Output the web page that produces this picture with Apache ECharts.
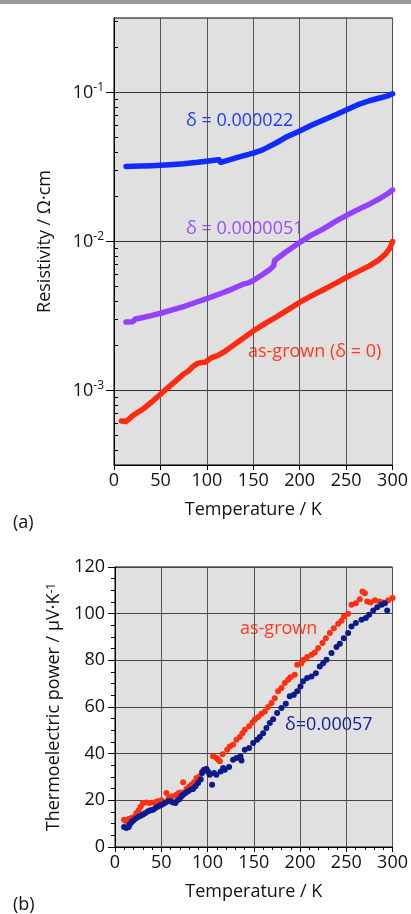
<!DOCTYPE html>
<html>
<head>
<meta charset="utf-8">
<script src="https://cdn.jsdelivr.net/npm/echarts@6/dist/echarts.min.js"></script>
<style>
html, body { margin: 0; padding: 0; background: #fff; }
#main { width: 411px; height: 914px; }
</style>
</head>
<body>
<div id="main"></div>
<script>
// (a) resistivity, three samples
var tempBlue = [13, 20, 30, 40, 50, 60, 75, 90, 100, 110, 113, 115, 125, 135, 150, 160, 175, 185, 200, 212, 225, 240, 250, 262, 275, 285, 295, 300];
var resBlue = [0.0319, 0.0320, 0.0321, 0.0323, 0.0325, 0.0328, 0.0333, 0.0340, 0.0346, 0.0352, 0.0354, 0.0340, 0.0354, 0.0370, 0.0392, 0.0412, 0.0460, 0.0500, 0.0552, 0.0600, 0.0652, 0.0715, 0.0764, 0.0825, 0.0880, 0.0915, 0.0950, 0.0980];

var tempPurple = [13, 20, 23, 30, 40, 50, 60, 75, 90, 100, 115, 125, 140, 145, 150, 160, 168, 172, 173, 185, 200, 212, 225, 240, 250, 262, 275, 285, 295, 300];
var resPurple = [0.00288, 0.00289, 0.00302, 0.00308, 0.00318, 0.00330, 0.00344, 0.00366, 0.00394, 0.00414, 0.00448, 0.00473, 0.00520, 0.00528, 0.00547, 0.00600, 0.00650, 0.00688, 0.00745, 0.00850, 0.00984, 0.0110, 0.0121, 0.0138, 0.0149, 0.0163, 0.0178, 0.0192, 0.0210, 0.0222];

var tempRed = [8, 13, 17, 20, 25, 30, 40, 50, 60, 70, 75, 80, 85, 90, 95, 99, 101, 105, 112, 120, 128, 135, 150, 162, 175, 188, 200, 212, 225, 240, 250, 262, 275, 285, 292, 297, 300];
var resRed = [0.000625, 0.000620, 0.000650, 0.000676, 0.000710, 0.000741, 0.000831, 0.000944, 0.00107, 0.00121, 0.00129, 0.00135, 0.00145, 0.00152, 0.00154, 0.00155, 0.00160, 0.00166, 0.00172, 0.00184, 0.00200, 0.00215, 0.00251, 0.00280, 0.00312, 0.00350, 0.00390, 0.00430, 0.00473, 0.00530, 0.00573, 0.00625, 0.00686, 0.00750, 0.00820, 0.00900, 0.0100];

var resMajorTicks = [0.001, 0.01, 0.1];
var resMinorTicks = [0.0004, 0.0005, 0.0006, 0.0007, 0.0008, 0.0009,
    0.002, 0.003, 0.004, 0.005, 0.006, 0.007, 0.008, 0.009,
    0.02, 0.03, 0.04, 0.05, 0.06, 0.07, 0.08, 0.09, 0.2, 0.3];

// (b) thermoelectric power
var tempAsGrown = [9.8, 12.3, 14.8, 17.7, 20.6, 23.1, 25.7, 27.8, 30.3, 33.9, 37.6, 42.2, 45.8, 50.2, 55.6, 58.1, 61.7, 66.4, 68.9, 71.8, 73.6, 77.2, 79.7, 82.6, 85.5, 88, 91.6, 94.2, 97, 101.4, 106, 109.6, 111.4, 113.3, 116.3, 121.2, 124, 127.6, 131.3, 134.9, 137.7, 140.3, 145, 148.6, 151.1, 154.7, 158.3, 161.9, 165.5, 169.1, 172.7, 176.3, 179.9, 183.5, 187.1, 189.6, 194.3, 196.9, 201.5, 204.1, 207.7, 212.4, 216, 219.6, 224.3, 227.9, 232.2, 236.5, 241.2, 244.8, 247.3, 252, 255.6, 260.3, 264.6, 267.5, 270.1, 272.6, 276.2, 280.9, 285.6, 289.9, 295.3, 300];
var seebAsGrown = [11.7, 11, 12, 12.4, 12.9, 14.6, 15.7, 17.4, 18.9, 19.1, 18.9, 19.1, 19.6, 20, 23.1, 21, 21.7, 22.4, 23.1, 23.4, 27.7, 24.9, 25.7, 26.7, 27.7, 29.6, 30.3, 32.4, 33.1, 31.7, 38.9, 38.1, 37.4, 36.7, 39.8, 41.7, 43.1, 43.8, 46, 47.1, 48.8, 50.3, 51.7, 53.4, 54.6, 55.7, 57.1, 58.1, 60, 61.7, 63.8, 66.7, 68.1, 70.3, 71.7, 72.8, 73.8, 78.1, 78.8, 80.3, 81.4, 82.4, 83.4, 85.3, 87.4, 89.5, 91.7, 93.8, 95.7, 97, 98.8, 100, 103.8, 104.5, 106.2, 109.5, 108.8, 105.2, 104.8, 105.7, 105.2, 104.8, 105.7, 106.7];

var tempDelta = [9.8, 12.3, 14.8, 15.9, 17.7, 19.5, 22.1, 24.9, 27.8, 30.3, 32.9, 35.8, 38.6, 41.2, 43.7, 46.6, 49.4, 52, 54.5, 57.4, 60.3, 62.8, 65.3, 67.5, 70, 71.8, 73.6, 76.1, 79, 81.9, 84.4, 87, 89.8, 92.7, 94.2, 96.3, 98.8, 100.6, 102.4, 104.9, 107.1, 109.6, 114.3, 116.9, 118.6, 123.3, 127.6, 131.3, 135.6, 136.7, 140.3, 145, 149.3, 153.6, 156.5, 160.1, 163.7, 167.3, 170.9, 175.2, 179.9, 184.6, 188.9, 193.3, 196.9, 200.5, 203.4, 207.7, 212.4, 217.1, 221.4, 225, 228.6, 234, 239.4, 243, 247.3, 252, 255.6, 260.3, 266.4, 271.1, 274.7, 279.1, 283.4, 288.1, 291.7, 294.2];
var seebDelta = [8.6, 8.1, 8.6, 9.6, 10.6, 11.3, 12.1, 12.9, 13.4, 13.9, 14.6, 15.3, 15.7, 16, 16.7, 17.4, 17.9, 18.4, 19.1, 19.6, 19.6, 19.1, 18.9, 20, 20.6, 21.7, 22.4, 23.1, 23.9, 24.6, 24.9, 26, 27.4, 28.9, 31.7, 33.1, 33.4, 32.4, 31, 26.7, 31.7, 31, 32.4, 33.9, 33.1, 34.3, 37.4, 38.1, 38.9, 37.1, 41.7, 42.4, 44.6, 46, 47.1, 48.8, 51, 53.1, 54.8, 57.4, 59.6, 61.4, 64.6, 65.3, 66.7, 68.8, 71, 72.4, 73.1, 74.5, 77.4, 78.8, 80.3, 83.1, 85.7, 87.1, 89.5, 91.7, 94.5, 96, 97.4, 98.1, 99.5, 101.4, 102.8, 103.8, 104.5, 101.4];

function zip(xs, ys) {
    var out = [];
    for (var i = 0; i < xs.length; i++) {
        out.push([xs[i], ys[i]]);
    }
    return out;
}

window.onload = function () {
    var font = '"Open Sans", "Noto Sans", sans-serif';
    var axisText = { fontSize: 18, color: '#111', fontFamily: font };
    var supStyle = { fontSize: 12, lineHeight: 12, verticalAlign: 'top', color: '#111', fontFamily: font };

    function tempAxis(idx, minor) {
        return {
            type: 'value', gridIndex: idx, min: 0, max: 300, interval: 50,
            axisLine: { show: true, onZero: false, lineStyle: { color: '#000', width: 1 } },
            axisTick: { show: true, length: 5, lineStyle: { color: '#000' } },
            minorTick: { show: minor, splitNumber: 5, length: 3, lineStyle: { color: '#000' } },
            axisLabel: Object.assign({ margin: 7 }, axisText),
            splitLine: { show: true, lineStyle: { color: '#555', width: 1 } },
            name: 'Temperature / K', nameLocation: 'middle', nameGap: 36,
            nameTextStyle: axisText
        };
    }

    var option = {
        animation: false,
        textStyle: { fontFamily: font },
        grid: [
            { left: 114, right: 15, top: 18, bottom: 449, show: true, backgroundColor: '#e0e0e0', borderColor: '#000', borderWidth: 1 },
            { left: 115, right: 18, top: 567, bottom: 67, show: true, backgroundColor: '#e0e0e0', borderColor: '#000', borderWidth: 1 }
        ],
        xAxis: [tempAxis(0, false), tempAxis(1, true)],
        yAxis: [
            {
                type: 'log', gridIndex: 0, min: Math.pow(10, -3.5), max: Math.pow(10, -0.5),
                axisLine: { show: true, onZero: false, lineStyle: { color: '#000', width: 1 } },
                axisTick: { show: true, length: 8, customValues: resMajorTicks, lineStyle: { color: '#000' } },
                axisLabel: Object.assign({
                    customValues: resMajorTicks, margin: 10, lineHeight: 22,
                    formatter: function (v) {
                        return '10{sup|' + Math.round(Math.log10(v)) + '}';
                    },
                    rich: { sup: supStyle }
                }, axisText),
                splitLine: { show: true, lineStyle: { color: '#333', width: 1 } },
                name: 'Resistivity / Ω·cm', nameLocation: 'middle', nameGap: 60,
                nameTextStyle: axisText
            },
            {
                type: 'log', gridIndex: 0, min: Math.pow(10, -3.5), max: Math.pow(10, -0.5),
                axisLine: { show: false },
                axisTick: { show: true, length: 4, customValues: resMinorTicks, lineStyle: { color: '#000' } },
                axisLabel: { show: false },
                splitLine: { show: false }
            },
            {
                type: 'value', gridIndex: 1, min: 0, max: 120, interval: 20,
                axisLine: { show: true, onZero: false, lineStyle: { color: '#000', width: 1 } },
                axisTick: { show: true, length: 7, lineStyle: { color: '#000' } },
                minorTick: { show: true, splitNumber: 4, length: 4, lineStyle: { color: '#000' } },
                axisLabel: Object.assign({ margin: 10 }, axisText),
                splitLine: { show: true, lineStyle: { color: '#444', width: 1 } },
                name: 'Thermoelectric power / μV·K{sup|-1}', nameLocation: 'middle', nameGap: 51,
                nameTextStyle: Object.assign({ rich: { sup: supStyle } }, axisText)
            }
        ],
        series: [
            {
                type: 'line', xAxisIndex: 0, yAxisIndex: 0, showSymbol: false,
                data: zip(tempBlue, resBlue),
                lineStyle: { color: '#0f2bff', width: 5.5, cap: 'round', join: 'round' }
            },
            {
                type: 'line', xAxisIndex: 0, yAxisIndex: 0, showSymbol: false,
                data: zip(tempPurple, resPurple),
                lineStyle: { color: '#9340ff', width: 5.5, cap: 'round', join: 'round' }
            },
            {
                type: 'line', xAxisIndex: 0, yAxisIndex: 0, showSymbol: false,
                data: zip(tempRed, resRed),
                lineStyle: { color: '#ff2a10', width: 5.5, cap: 'round', join: 'round' }
            },
            {
                type: 'scatter', xAxisIndex: 1, yAxisIndex: 2, symbolSize: 6,
                data: zip(tempAsGrown, seebAsGrown),
                itemStyle: { color: '#ff3010', opacity: 1 }
            },
            {
                type: 'scatter', xAxisIndex: 1, yAxisIndex: 2, symbolSize: 6,
                data: zip(tempDelta, seebDelta),
                itemStyle: { color: '#0c1a8c', opacity: 1 }
            }
        ],
        graphic: [
            { type: 'rect', shape: { x: 0, y: 0, width: 411, height: 4 }, style: { fill: '#9c9c9c' } },
            { type: 'text', x: 186, y: 121, style: { text: 'δ = 0.000022', fill: '#1f3bff', font: '18px ' + font, verticalAlign: 'middle' } },
            { type: 'text', x: 186, y: 229, style: { text: 'δ = 0.0000051', fill: '#9b4dff', font: '18px ' + font, verticalAlign: 'middle' } },
            { type: 'text', x: 248, y: 352, style: { text: 'as-grown (δ = 0)', fill: '#ff3a1a', font: '18px ' + font, verticalAlign: 'middle' } },
            { type: 'text', x: 240, y: 629, style: { text: 'as-grown', fill: '#ff3a1a', font: '18px ' + font, verticalAlign: 'middle' } },
            { type: 'text', x: 285, y: 725, style: { text: 'δ=0.00057', fill: '#14209a', font: '18px ' + font, verticalAlign: 'middle' } },
            { type: 'text', x: 13, y: 523, style: { text: '(a)', fill: '#111', font: '18px ' + font, verticalAlign: 'middle' } },
            { type: 'text', x: 13, y: 905, style: { text: '(b)', fill: '#111', font: '18px ' + font, verticalAlign: 'middle' } }
        ]
    };

    var chart = echarts.init(document.getElementById('main'));
    chart.setOption(option);
};
</script>
</body>
</html>
